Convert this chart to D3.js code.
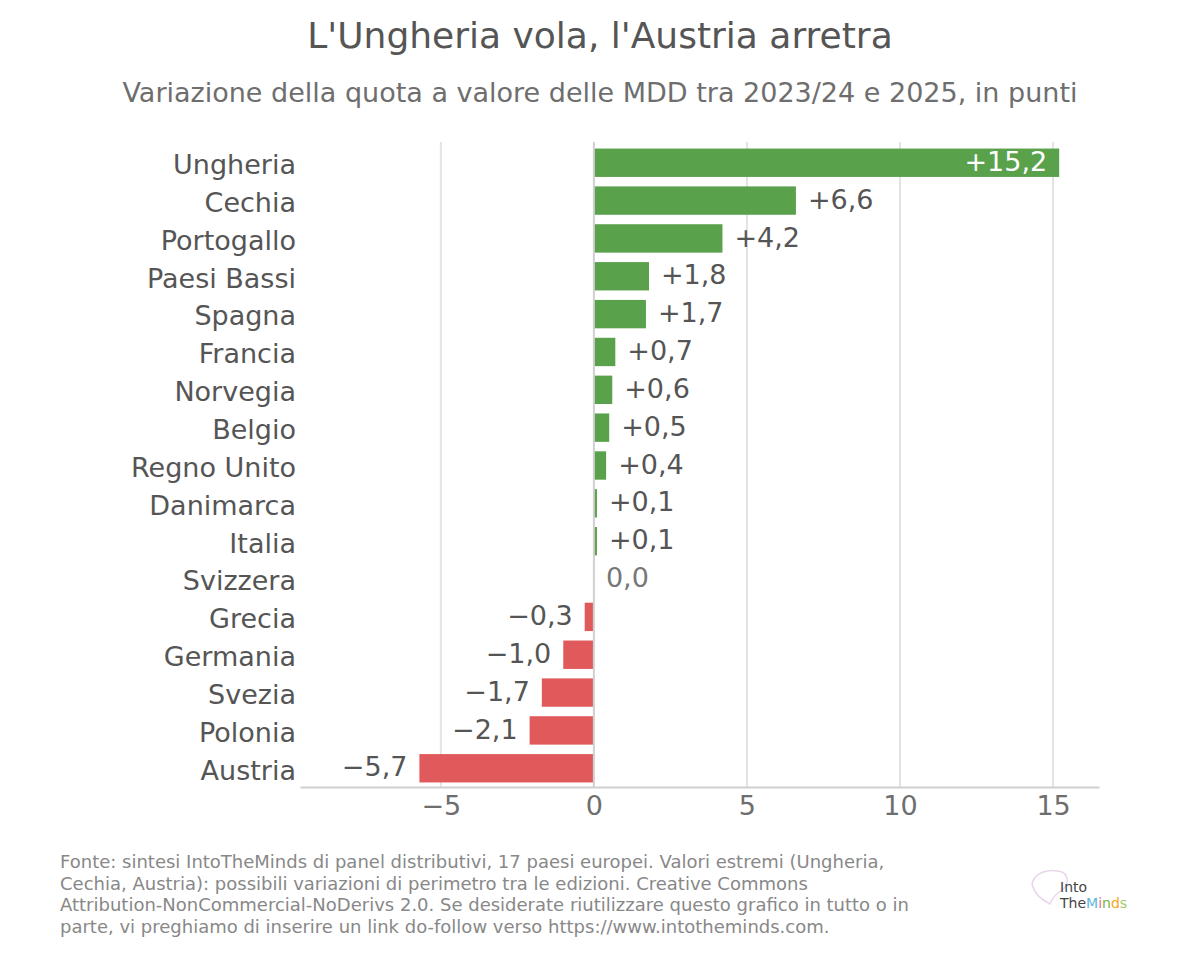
<!DOCTYPE html>
<html>
<head>
<meta charset="utf-8">
<script src="https://cdn.jsdelivr.net/npm/d3@7"></script>
<style>
  body { margin: 0; background: #fff; }
  svg { font-family: "DejaVu Sans", sans-serif; }
</style>
</head>
<body>
<svg id="chart" width="1200" height="955"></svg>
<script>
// data
const countries = ["Ungheria", "Cechia", "Portogallo", "Paesi Bassi", "Spagna", "Francia", "Norvegia",
  "Belgio", "Regno Unito", "Danimarca", "Italia", "Svizzera", "Grecia", "Germania", "Svezia", "Polonia", "Austria"];
const changes = [15.2, 6.6, 4.2, 1.8, 1.7, 0.7, 0.6, 0.5, 0.4, 0.1, 0.1, 0.0, -0.3, -1.0, -1.7, -2.1, -5.7];
const tickValues = [-5, 0, 5, 10, 15];

const svg = d3.select("#chart");
const margin = {top: 144, right: 101, bottom: 170, left: 300};
const width = 1200, height = 955;

const x = d3.scaleLinear()
  .domain([-9.6, 16.5])
  .range([margin.left, width - margin.right]);

const y = d3.scaleBand()
  .domain(countries)
  .range([margin.top, height - margin.bottom + 2])
  .paddingInner(0.25)
  .paddingOuter(0.12);

const fmt = v => {
  const s = Math.abs(v).toFixed(1).replace(".", ",");
  if (v > 0) return "+" + s;
  if (v < 0) return "\u2212" + s;
  return s;
};

// title + subtitle
svg.append("text")
  .attr("x", 600).attr("y", 48)
  .attr("text-anchor", "middle")
  .style("font-size", "36px")
  .attr("fill", "#555")
  .text("L'Ungheria vola, l'Austria arretra");

svg.append("text")
  .attr("x", 600).attr("y", 102)
  .attr("text-anchor", "middle")
  .style("font-size", "27px")
  .attr("fill", "#6e6e6e")
  .text("Variazione della quota a valore delle MDD tra 2023/24 e 2025, in punti");

// vertical grid
svg.append("g")
  .selectAll("line")
  .data(tickValues.filter(d => d !== 0))
  .join("line")
  .attr("x1", d => x(d)).attr("x2", d => x(d))
  .attr("y1", 142).attr("y2", 787)
  .attr("stroke", "#e3e3e3")
  .attr("stroke-width", 2);

// bottom axis
const xAxis = d3.axisBottom(x)
  .tickValues(tickValues)
  .tickSize(0)
  .tickPadding(9)
  .tickFormat(d => d < 0 ? "\u2212" + Math.abs(d) : d);

const gx = svg.append("g")
  .attr("transform", "translate(0,787)")
  .call(xAxis);
gx.select(".domain").attr("stroke", "#d0d0d0").attr("stroke-width", 2);
gx.selectAll("text").style("font-size", "27px").attr("fill", "#6e6e6e")
  .attr("font-family", "DejaVu Sans, sans-serif");

// bars
svg.append("g")
  .selectAll("rect")
  .data(changes)
  .join("rect")
  .attr("x", d => x(Math.min(0, d)))
  .attr("y", (d, i) => y(countries[i]))
  .attr("width", d => Math.abs(x(d) - x(0)))
  .attr("height", y.bandwidth())
  .attr("fill", d => d >= 0 ? "#5aa14c" : "#e05a5c");

// zero line
svg.append("line")
  .attr("x1", x(0)).attr("x2", x(0))
  .attr("y1", 142).attr("y2", 787)
  .attr("stroke", "#d0d0d0")
  .attr("stroke-width", 2);

// category labels
const yAxis = d3.axisLeft(y).tickSize(0).tickPadding(4);
const gy = svg.append("g")
  .attr("transform", `translate(${margin.left},0)`)
  .call(yAxis);
gy.select(".domain").remove();
gy.selectAll("text").style("font-size", "27px").attr("fill", "#555")
  .attr("dy", "0.42em")
  .attr("font-family", "DejaVu Sans, sans-serif");

// value labels
svg.append("g")
  .selectAll("text")
  .data(changes)
  .join("text")
  .attr("x", (d, i) => {
    if (i === 0) return x(d) - 12;
    return d >= 0 ? x(d) + 12 : x(d) - 12;
  })
  .attr("y", (d, i) => y(countries[i]) + y.bandwidth() / 2)
  .attr("dy", "0.3em")
  .attr("text-anchor", (d, i) => (i === 0 || d < 0) ? "end" : "start")
  .style("font-size", "27px")
  .attr("fill", (d, i) => i === 0 ? "#fff" : (d === 0 ? "#777" : "#555"))
  .text(d => fmt(d));

// footer
const footer = [
  "Fonte: sintesi IntoTheMinds di panel distributivi, 17 paesi europei. Valori estremi (Ungheria,",
  "Cechia, Austria): possibili variazioni di perimetro tra le edizioni. Creative Commons",
  "Attribution-NonCommercial-NoDerivs 2.0. Se desiderate riutilizzare questo grafico in tutto o in",
  "parte, vi preghiamo di inserire un link do-follow verso https://www.intotheminds.com."
];
svg.append("g")
  .selectAll("text")
  .data(footer)
  .join("text")
  .attr("x", 60)
  .attr("y", (d, i) => 868 + i * 21.5)
  .style("font-size", "18px")
  .attr("fill", "#888")
  .text(d => d);

// logo
const logo = svg.append("g").attr("transform", "translate(1030,868)");
logo.append("path")
  .attr("d", "M2,16 C4,4 20,0 32,4 C40,8 38,18 32,22 C26,26 22,30 20,36 C12,32 4,26 2,16 Z")
  .attr("fill", "none")
  .attr("stroke", "#ead6ea")
  .attr("stroke-width", 1.5);
logo.append("text").attr("x", 30).attr("y", 24)
  .style("font-size", "14px").attr("fill", "#444").text("Into");
const t2 = logo.append("text").attr("x", 30).attr("y", 40).style("font-size", "14px");
t2.append("tspan").attr("fill", "#444").text("The");
t2.append("tspan").attr("fill", "#5bb8d6").text("M");
t2.append("tspan").attr("fill", "#e36fa6").text("i");
t2.append("tspan").attr("fill", "#7cb342").text("n");
t2.append("tspan").attr("fill", "#f5a623").text("d");
t2.append("tspan").attr("fill", "#9ccc65").text("s");
</script>
</body>
</html>
